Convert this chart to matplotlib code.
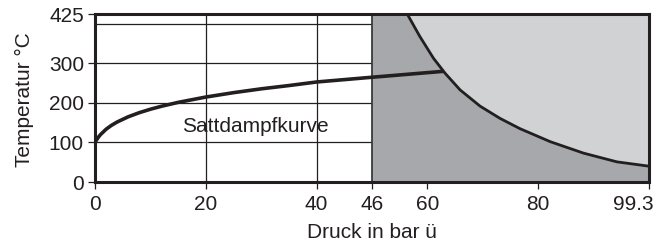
import numpy as np
import matplotlib
matplotlib.use("Agg")
import matplotlib.pyplot as plt
import matplotlib.transforms as mtransforms

plt.rcParams['font.family'] = ['Liberation Sans', 'DejaVu Sans']

# axis ticks (the pressure axis is drawn schematically, not linear)
x_ticks = [0, 20, 40, 46, 60, 80, 99.3]
x_tick_pos = [0, 1, 2, 2.5, 3, 4, 5]
x_labels = ['0', '20', '40', '46', '60', '80', '99.3']
y_ticks = [0, 100, 200, 300, 425]

# saturated steam curve (gauge pressure in bar, temperature in C)
sat_p = [0, 0.3, 0.7, 1, 2, 3, 4, 6, 8, 10, 12, 15, 20, 25, 30, 35, 40, 46, 62.9]
sat_t = [100, 107, 115, 120, 133.5, 143.6, 151.8, 165, 175.4, 184.1, 191.6,
         201.4, 214.9, 226, 235.7, 244, 253, 265, 280]

# limit curve in the grey area
lim_p = [54.9, 58.1, 61.1, 63.2, 65.9, 69.5, 73.1, 76.7, 82.1, 87.9, 93.7, 99.3]
lim_t = [425, 368, 313, 275, 233, 192, 161, 135, 102, 73, 51, 40]

grid_t = [100, 200, 300, 400]
grid_p = [20, 40]

ink = '#231f20'
dark = '#a7a8ab'
light = '#d1d2d4'


def fwd(x):
    return np.interp(x, x_ticks, x_tick_pos, left=np.nan, right=np.nan)


def inv(x):
    return np.interp(x, x_tick_pos, x_ticks, left=np.nan, right=np.nan)


fig = plt.figure(figsize=(6.58, 2.46), dpi=100)
ax = fig.add_axes([95/658, 1-182/246, 554/658, 168/246])
ax.set_xscale('function', functions=(fwd, inv))
ax.set_xlim(0, 99.3)
ax.set_ylim(0, 425)

ax.hlines(grid_t, 0, 46, color=ink, lw=0.9, zorder=1)
ax.vlines(grid_p, 0, 425, color=ink, lw=0.9, zorder=1)

# grey areas
ax.fill_between([46, 99.3], 0, 425, color=dark, lw=0, zorder=2)
ax.fill_between(lim_p, lim_t, 425, color=light, lw=0, zorder=3)
ax.vlines([46], 0, 425, color='#3a3a3a', lw=1.3, zorder=4)

ax.plot(lim_p, lim_t, color=ink, lw=2.0, zorder=5, solid_capstyle='butt',
        solid_joinstyle='round')
ax.plot(sat_p, sat_t, color=ink, lw=2.6, zorder=6, solid_capstyle='butt',
        solid_joinstyle='round')

ax.text(29, 126, 'Sattdampfkurve', fontsize=15, color=ink,
        ha='center', va='baseline', zorder=7)

ax.set_xticks(x_ticks)
ax.set_xticklabels(x_labels)
ax.set_yticks(y_ticks)
ax.minorticks_off()
ax.tick_params(direction='out', length=5, width=0.9, color=ink,
               labelsize=15, labelcolor=ink, pad=3)
ax.tick_params(axis='x', pad=4)

# last pressure label sits left of its tick so it stays inside the figure
last = ax.get_xticklabels()[-1]
last.set_horizontalalignment('right')
last.set_transform(last.get_transform() +
                   mtransforms.ScaledTranslation(5/100, 0, fig.dpi_scale_trans))

for s in ax.spines.values():
    s.set_linewidth(2.2)
    s.set_color(ink)
    s.set_zorder(8)

ax.set_xlabel('Druck in bar ü', fontsize=15, color=ink, labelpad=7)
ax.set_ylabel('Temperatur °C', fontsize=15, color=ink)
ax.yaxis.set_label_coords(-0.11, 0.49)

fig.savefig('out.png', dpi=100)
